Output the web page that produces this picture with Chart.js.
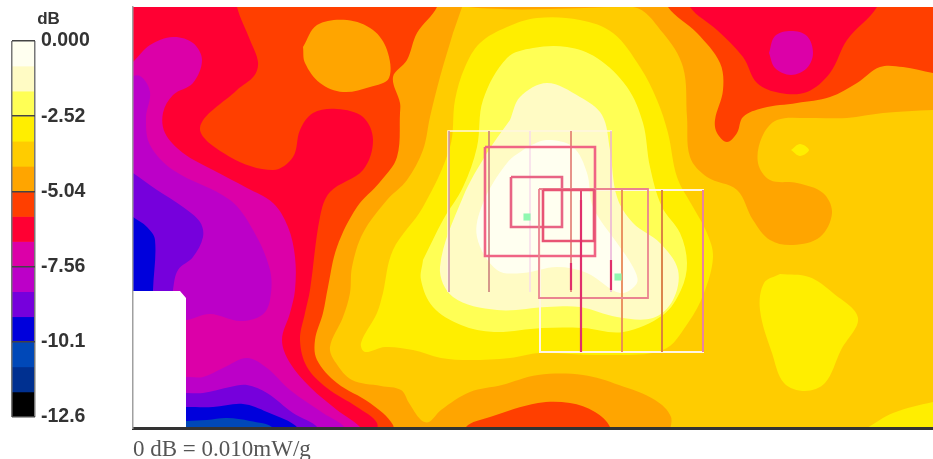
<!DOCTYPE html>
<html>
<head>
<meta charset="utf-8">
<style>
  html, body { margin: 0; background: #fff; overflow: hidden; }
  canvas { position: absolute; left: 0; top: 0; filter: blur(0.6px); }
</style>
<script src="https://cdn.jsdelivr.net/npm/chart.js@4/dist/chart.umd.min.js"></script>
</head>
<body>
<canvas id="mapa" width="938" height="459"></canvas>
<canvas id="escala" width="133" height="459"></canvas>
<script>
// colour scale, band 0 is the top of the bar
const bandColors = ['#fffff0', '#fffbc4', '#ffff55', '#ffee00', '#ffcc00', '#ffa500', '#ff3f00', '#ff0033',
                    '#dc00a8', '#bc00c8', '#7600dc', '#0000dc', '#0048b8', '#003090', '#000000'];
const bandSizes = [-0.84, -0.84, -0.84, -0.84, -0.84, -0.84, -0.84, -0.84, -0.84, -0.84, -0.84, -0.84, -0.84, -0.84, -0.84];
const tickValues = [0, -2.52, -5.04, -7.56, -10.08, -12.6];
const tickLabels = ['0.000', '-2.52', '-5.04', '-7.56', '-10.1', '-12.6'];
const scaleCategories = ['dB'];
const footnote = '0 dB = 0.010mW/g';

// contours, x/y in scan units
const fondo = [[120, -10], [950, -10], [950, 445], [120, 445]];
const magenta = [[125, 68], [133, 62], [150, 45], [173, 37], [193, 43], [202, 60], [193, 83], [173, 95], [163, 113], [165, 133], [183, 153], [213, 170], [247, 188], [273, 203], [288, 227], [295, 257], [295, 290], [290, 313], [282, 340], [290, 363], [310, 387], [337, 410], [360, 427], [370, 445], [125, 445]];
const purpura1 = [[125, 78], [140, 76], [150, 92], [146, 118], [150, 145], [173, 170], [230, 200], [253, 230], [270, 270], [270, 300], [262, 315], [240, 321], [210, 314], [187, 320], [170, 320], [125, 320]];
const violeta1 = [[125, 168], [133, 173], [157, 190], [183, 207], [200, 222], [203, 237], [193, 257], [178, 270], [173, 290], [173, 300], [125, 300]];
const azul1 = [[125, 212], [133, 217], [147, 227], [155, 240], [153, 290], [153, 300], [125, 300]];
const purpura2 = [[170, 380], [187, 377], [203, 377], [223, 368], [247, 358], [267, 368], [290, 390], [323, 413], [345, 428], [345, 445], [170, 445]];
const violeta2 = [[170, 393], [187, 393], [203, 393], [230, 387], [247, 385], [267, 393], [293, 413], [318, 428], [318, 445], [170, 445]];
const azul2 = [[170, 407], [187, 407], [213, 407], [243, 404], [267, 412], [298, 428], [298, 445], [170, 445]];
const azul3 = [[170, 421], [187, 421], [207, 420], [227, 418], [250, 421], [273, 428], [273, 445], [170, 445]];
const rojoNaranja = [[237, -10], [237, 7], [250, 40], [258, 62], [254, 76], [237, 90], [200, 128], [230, 157], [273, 170], [293, 157], [300, 130], [313, 113], [337, 109], [363, 117], [373, 140], [363, 170], [330, 192], [320, 217], [310, 290], [305, 313], [300, 340], [307, 367], [327, 388], [357, 407], [377, 423], [377, 445], [950, 445], [950, -10]];
const domoRojo = [[690, -10], [690, 7], [717, 30], [743, 57], [757, 83], [780, 93], [807, 92], [830, 73], [847, 40], [877, 7], [877, -10]];
const domoMagenta = [[769, 53], [775, 36], [791, 31], [807, 36], [813, 53], [807, 68], [791, 75], [775, 68], [769, 53]];
const naranja = [[437, -10], [437, 7], [417, 33], [407, 60], [393, 77], [400, 103], [400, 113], [397, 157], [380, 182], [357, 207], [337, 247], [328, 287], [323, 313], [315, 340], [317, 360], [337, 383], [370, 403], [393, 425], [393, 445], [950, 445], [950, 75], [933, 73], [903, 67], [880, 67], [857, 83], [830, 97], [797, 103], [763, 108], [743, 117], [737, 133], [727, 142], [717, 133], [715, 120], [723, 90], [720, 63], [697, 33], [668, 7], [668, -10]];
const islaNaranja = [[303, 47], [317, 25], [347, 20], [373, 30], [387, 50], [389, 78], [370, 87], [343, 92], [320, 83], [305, 63], [303, 47]];
const oro = [[468, -10], [468, 7], [633, 7], [663, 33], [683, 67], [687, 117], [690, 157], [707, 177], [737, 190], [753, 220], [770, 240], [793, 245], [820, 237], [832, 213], [823, 193], [797, 183], [770, 180], [758, 163], [762, 137], [777, 120], [810, 118], [847, 118], [883, 113], [933, 110], [950, 110], [950, 445], [671, 445], [671, 417], [655, 400], [619, 385], [583, 375], [538, 375], [502, 385], [470, 392], [441, 410], [429, 422], [421, 420], [409, 403], [401, 390], [381, 386], [352, 380], [336, 363], [330, 347], [343, 317], [350, 293], [352, 267], [363, 233], [387, 200], [407, 180], [423, 150], [430, 117], [440, 77], [453, 33]];
const jorobaRoja = [[466, 445], [466, 427], [490, 417], [538, 403], [570, 403], [595, 412], [610, 427], [610, 445]];
const amarillo = [[383, 293], [393, 250], [423, 207], [450, 147], [455, 100], [465, 67], [480, 43], [507, 27], [537, 18], [580, 20], [613, 33], [640, 67], [657, 100], [668, 133], [677, 177], [693, 207], [707, 233], [713, 257], [704, 293], [688, 323], [663, 350], [600, 355], [540, 353], [510, 358], [470, 360], [441, 358], [413, 350], [385, 347], [365, 352], [361, 343], [377, 313], [383, 293]];
const amarilloDer = [[780, 274], [809, 277], [833, 293], [858, 318], [841, 350], [825, 383], [805, 391], [784, 383], [772, 353], [760, 310], [764, 283], [780, 274]];
const amarilloPunto = [[791, 150], [800, 144], [809, 150], [800, 156], [791, 150]];
const amarilloEsquina = [[867, 428], [893, 413], [933, 402], [950, 400], [950, 445], [867, 445]];
const amarilloClaro = [[423, 260], [443, 220], [463, 187], [477, 147], [483, 100], [507, 58], [533, 48], [567, 47], [597, 58], [627, 87], [643, 123], [650, 167], [662, 207], [680, 233], [687, 263], [681, 290], [663, 315], [623, 332], [583, 328], [542, 328], [494, 332], [461, 325], [433, 307], [421, 280], [423, 260]];
const palido = [[510, 120], [520, 97], [547, 83], [580, 97], [602, 115], [610, 150], [617, 197], [633, 223], [660, 243], [678, 270], [673, 300], [653, 318], [617, 317], [580, 307], [547, 307], [497, 310], [453, 297], [440, 267], [463, 197], [487, 153], [510, 120]];
const crema = [[527, 147], [547, 140], [573, 147], [587, 173], [593, 207], [617, 243], [633, 267], [637, 283], [620, 293], [587, 273], [557, 267], [523, 273], [497, 270], [477, 237], [483, 203], [507, 163], [527, 147]];
const zonaBlanca = [[120, 291], [180, 291], [186, 298], [186, 440], [120, 440]];

// scan outlines on top of the map
const marcoA = [[448, 292], [448, 131], [612, 131]];
const lineasA = [449, 489, 530, 571, 611];
const lineasAy = [131, 292];
const lineasB = [581, 622, 662, 703];
const lineasBy = [190, 352];
const marcoB = [[540, 190], [540, 352], [703, 352], [703, 190], [540, 190]];
const medioA = [[485, 147], [595, 147], [595, 256], [485, 256], [485, 147]];
const chicoA = [[511, 177], [562, 177], [562, 227], [511, 227], [511, 177]];
const medioB = [[539, 189], [648, 189], [648, 298], [539, 298], [539, 189]];
const chicoB = [[543, 190], [594, 190], [594, 241], [543, 241], [543, 190]];
const tramosFuertes = [[[571, 263], [571, 290]], [[611, 260], [611, 290]], [[581, 200], [581, 352]]];
const picos = [[527, 217], [618, 277]];

const regiones = [
  [fondo, 7, 0], [magenta, 8], [purpura1, 9], [violeta1, 10], [azul1, 11],
  [purpura2, 9], [violeta2, 10], [azul2, 11], [azul3, 12],
  [rojoNaranja, 6], [domoRojo, 7], [domoMagenta, 8], [naranja, 5], [islaNaranja, 5],
  [oro, 4], [jorobaRoja, 6], [amarillo, 3], [amarilloDer, 3], [amarilloPunto, 3], [amarilloEsquina, 3],
  [amarilloClaro, 2], [palido, 1], [crema, 0]
];

function linea(puntos, color, ancho) {
  return { data: puntos, showLine: true, fill: false, tension: 0, pointRadius: 0, borderColor: color, borderWidth: ancho };
}

const rellenos = regiones.map(([puntos, banda, tension]) => ({
  data: puntos,
  showLine: true,
  fill: 'shape',
  tension: tension === undefined ? 0.35 : tension,
  pointRadius: 0,
  borderWidth: 0,
  backgroundColor: bandColors[banda]
}));
rellenos.push({ data: zonaBlanca, showLine: true, fill: 'shape', tension: 0, pointRadius: 0, borderWidth: 0, backgroundColor: '#ffffff' });

const coloresA = ['#c890a8', '#c87878', '#f8dcea', '#e07068', '#eab0d8'];
const coloresB = ['#e03468', '#e88858', '#d87840', '#e87898'];
const trazos = [
  linea(marcoA, '#fff6e0', 1.5),
  linea(marcoB, '#fff4e4', 2),
  ...lineasA.map((x, i) => linea(lineasAy.map(y => [x, y]), coloresA[i], 1.5)),
  ...lineasB.map((x, i) => linea(lineasBy.map(y => [x, y]), coloresB[i], 1.8)),
  linea(medioA, '#f06484', 2.6),
  linea(chicoA, '#e86484', 2.6),
  linea(medioB, '#ea8490', 1.8),
  linea(chicoB, '#e85474', 2.6),
  ...tramosFuertes.map(t => linea(t, '#e0306c', 2.2)),
  { data: picos, showLine: false, pointStyle: 'rect', pointRadius: 5, pointBackgroundColor: '#90f8b0', pointBorderWidth: 0 }
];

// the first one listed is painted first, so order goes down
const datasetsMapa = [...rellenos, ...trazos];
datasetsMapa.forEach((d, i) => { d.order = datasetsMapa.length - i; });

new Chart(document.getElementById('mapa'), {
  type: 'scatter',
  data: { datasets: datasetsMapa },
  options: {
    responsive: false,
    animation: false,
    layout: { padding: { left: 133, top: 7, right: 0, bottom: 0 } },
    plugins: { legend: { display: false }, tooltip: { enabled: false } },
    scales: {
      x: {
        type: 'linear', min: 133, max: 933,
        afterFit: s => { s.height = 31; },
        ticks: { display: false },
        grid: { display: false },
        border: { color: '#333', width: 3, z: 1 },
        title: {
          display: true, text: footnote, align: 'start', color: '#555',
          font: { family: '"Liberation Serif"', size: 23, lineHeight: 1 }, padding: { top: 4, bottom: -2 }
        }
      },
      y: {
        type: 'linear', reverse: true, min: 7, max: 428,
        afterFit: s => { s.width = 0; },
        ticks: { display: false },
        grid: { display: false },
        border: { color: '#a0a0a0', width: 1.5, z: 1 }
      }
    }
  }
});

new Chart(document.getElementById('escala'), {
  type: 'bar',
  data: {
    labels: scaleCategories,
    datasets: bandSizes.map((v, i) => ({ data: [v], backgroundColor: bandColors[i], borderWidth: 0, barPercentage: 1, categoryPercentage: 1 }))
  },
  options: {
    responsive: false,
    animation: false,
    layout: { padding: { left: 12, right: 0, top: 0, bottom: 42 } },
    plugins: { legend: { display: false }, tooltip: { enabled: false } },
    scales: {
      x: {
        position: 'top', stacked: true,
        afterFit: s => { s.height = 41; s.paddingLeft = 0; s.paddingRight = 0; },
        grid: { color: '#777', lineWidth: 1.5, z: 1, drawTicks: false },
        border: { display: false },
        ticks: { color: '#333', font: { family: '"Liberation Sans"', size: 17, weight: 'bold' }, labelOffset: 25, padding: 11, maxRotation: 0, autoSkip: false }
      },
      y: {
        position: 'right', stacked: true, min: -12.6, max: 0,
        afterFit: s => { s.width = 98; },
        afterBuildTicks: s => { s.ticks = tickValues.map(v => ({ value: v })); },
        grid: { color: '#444', lineWidth: 1.5, z: 1, drawTicks: false },
        border: { display: false },
        ticks: {
          color: '#333', padding: 6,
          font: { family: '"Liberation Sans"', size: 19.5, weight: 'bold' },
          callback: (v, i) => tickLabels[i]
        }
      }
    }
  }
});
</script>
</body>
</html>
